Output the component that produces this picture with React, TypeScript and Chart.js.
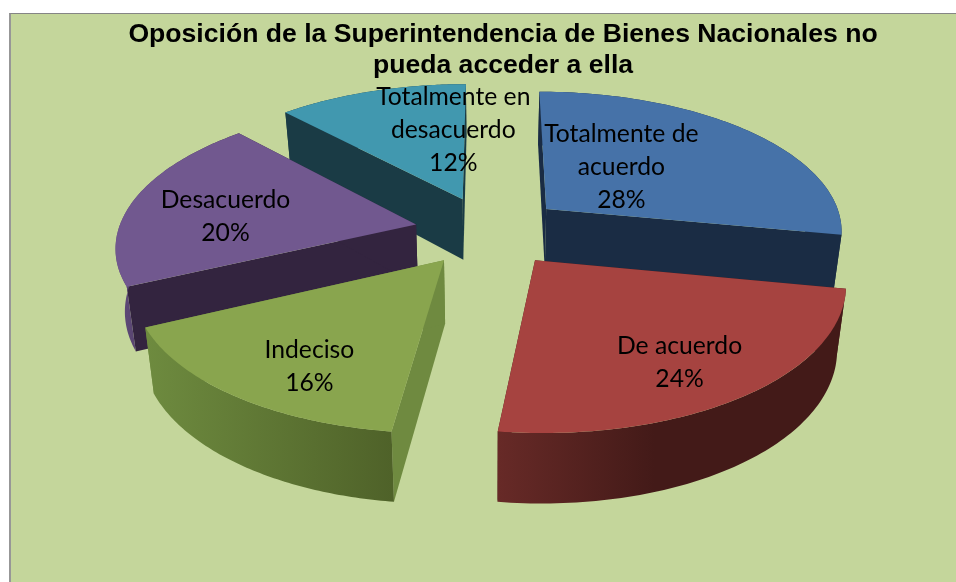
import React, { useEffect, useRef } from "react";
import { Chart, registerables } from "chart.js";

Chart.register(...registerables);

const categories = [
  ["Totalmente de", "acuerdo"],
  ["De acuerdo"],
  ["Indeciso"],
  ["Desacuerdo"],
  ["Totalmente en", "desacuerdo"],
];
const percentages = [28, 24, 16, 20, 12];
const titleLines = [
  "Oposición de la Superintendencia de Bienes Nacionales no",
  "pueda acceder a ella",
];

const topColors = ["#4672A8", "#A64340", "#89A54E", "#71588F", "#4198AF"];
const sideColors = ["#1A2C44", "#431A18", "#6F8A40", "#33243F", "#1A3B45"];
const rimFrom = ["#1A2C44", "#672A27", "#6E8B3F", "#604B7A", "#1A3B45"];
const rimTo = ["#1A2C44", "#431A18", "#4F6229", "#33243F", "#1A3B45"];
const labelNudge = [
  [-30, -1],
  [46, 39],
  [-36, 43],
  [-48, 5],
  [39, -12],
];
const drawOrder = [4, 0, 3, 2, 1];

// View of the tilted pie: plane coordinates (unit radius) to canvas pixels.
const view = { cx: 489.5, cy: 231, ax: 298, ay: 139.5, persp: 0.14, shrink: 0.975, depth: 62, depthSlope: 7 };

function project(X: number, Y: number, low = false): [number, number] {
  const k = 1 / (1 - view.persp * Y);
  let sx = view.cx + view.ax * X * k;
  let sy = view.cy + view.ay * Y * k;
  if (low) {
    sx = view.cx + (sx - view.cx) * view.shrink;
    sy += view.depth + view.depthSlope * Y;
  }
  return [sx, sy];
}

function tracePath(ctx: CanvasRenderingContext2D, pts: [number, number][]) {
  ctx.beginPath();
  pts.forEach((p, i) => (i ? ctx.lineTo(p[0], p[1]) : ctx.moveTo(p[0], p[1])));
  ctx.closePath();
}

const pie3d = {
  id: "pie3d",
  beforeDatasetDraw(chart: any) {
    const ctx: CanvasRenderingContext2D = chart.ctx;
    const arcs = chart.getDatasetMeta(0).data;
    const geom = arcs.map((arc: any) => {
      const p = arc.getProps(["startAngle", "endAngle", "outerRadius"], true);
      const e = arc.options.offset / p.outerRadius;
      const mid = (p.startAngle + p.endAngle) / 2;
      return { a0: p.startAngle, a1: p.endAngle, mid, ox: e * Math.cos(mid), oy: e * Math.sin(mid) };
    });
    for (const i of drawOrder) {
      const g = geom[i];
      const n = 80;
      const rim: [number, number][] = [];
      for (let s = 0; s <= n; s++) {
        const a = g.a0 + ((g.a1 - g.a0) * s) / n;
        rim.push([g.ox + Math.cos(a), g.oy + Math.sin(a)]);
      }
      const hi = rim.map((q) => project(q[0], q[1]));
      const lo = rim.map((q) => project(q[0], q[1], true));
      const apexHi = project(g.ox, g.oy);
      const apexLo = project(g.ox, g.oy, true);

      ctx.fillStyle = sideColors[i];
      tracePath(ctx, [apexHi, hi[0], lo[0], apexLo]);
      ctx.fill();
      tracePath(ctx, [apexHi, hi[n], lo[n], apexLo]);
      ctx.fill();

      const xs = hi.map((q) => q[0]);
      const grad = ctx.createLinearGradient(Math.min(...xs), 0, Math.max(...xs), 0);
      grad.addColorStop(0, rimFrom[i]);
      grad.addColorStop(i === 1 ? 0.45 : 1, rimTo[i]);
      ctx.fillStyle = grad;
      tracePath(ctx, [...hi, ...lo.slice().reverse()]);
      ctx.fill();

      ctx.fillStyle = topColors[i];
      tracePath(ctx, [apexHi, ...hi]);
      ctx.fill();
    }

    ctx.fillStyle = "#000";
    ctx.font = "24.7px Lato";
    ctx.textAlign = "center";
    ctx.textBaseline = "middle";
    geom.forEach((g: any, i: number) => {
      const [sx, sy] = project(g.ox + 0.5 * Math.cos(g.mid), g.oy + 0.5 * Math.sin(g.mid));
      const lines = [...categories[i], `${percentages[i]}%`];
      const x = sx + labelNudge[i][0];
      const y = sy + labelNudge[i][1];
      lines.forEach((line, j) => ctx.fillText(line, x, y + (j - (lines.length - 1) / 2) * 33));
    });
    return false;
  },
};

export default function App() {
  const ref = useRef<HTMLCanvasElement>(null);
  useEffect(() => {
    const chart = new Chart(ref.current!, {
      type: "pie",
      data: {
        labels: categories.map((c) => c.join(" ")),
        datasets: [{ data: percentages, backgroundColor: topColors, offset: 55, borderWidth: 0 }],
      },
      options: {
        responsive: false,
        animation: false,
        layout: { padding: { left: 50 } },
        plugins: {
          legend: { display: false },
          tooltip: { enabled: false },
          title: {
            display: true,
            text: titleLines,
            color: "#000",
            font: { family: "'Liberation Sans'", size: 26.6, weight: "bold", lineHeight: 1.17 },
            padding: { top: 19, bottom: 10 },
          },
        },
      },
      plugins: [pie3d],
    } as any);
    return () => chart.destroy();
  }, []);
  return (
    <div style={{ position: "fixed", left: 0, top: 0, width: 956, height: 582, overflow: "hidden", background: "#fff" }}>
      <div
        style={{
          position: "absolute",
          left: 9,
          top: 13,
          right: 0,
          bottom: 0,
          background: "#C4D69B",
          borderLeft: "2px solid #979797",
          borderTop: "1px solid #858585",
        }}
      />
      <canvas ref={ref} width={956} height={582} style={{ position: "absolute", left: 0, top: 0, display: "block" }} />
    </div>
  );
}
